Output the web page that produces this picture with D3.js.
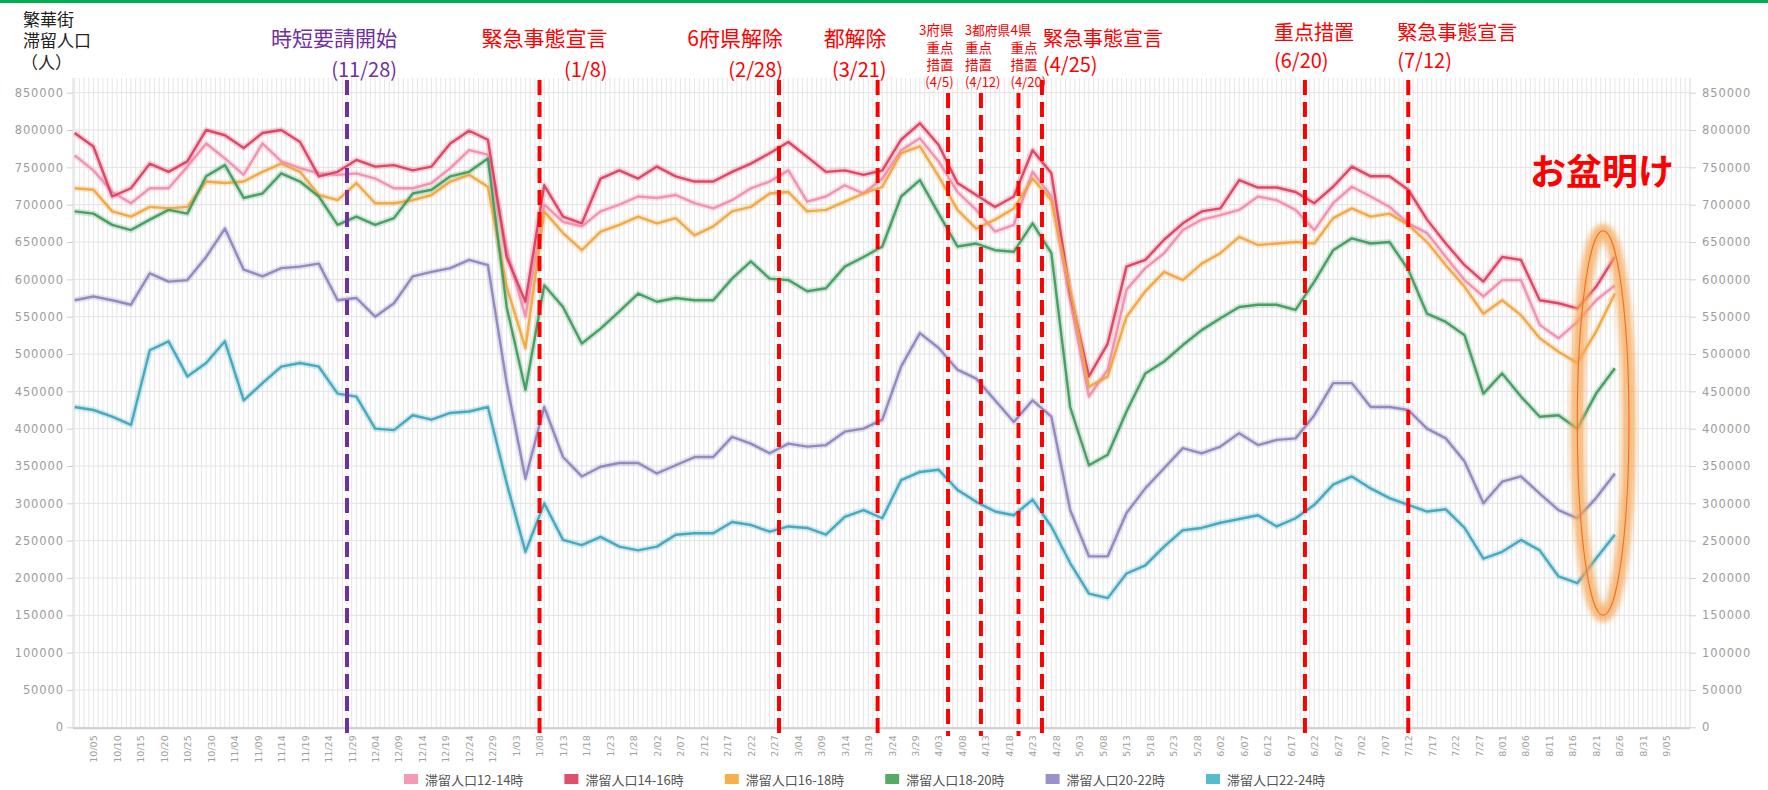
<!DOCTYPE html>
<html><head><meta charset="utf-8">
<script src="https://cdn.jsdelivr.net/npm/d3@7"></script>
<style>
body{margin:0;background:#fff;}
svg{display:block;}
text{font-family:"Noto Sans CJK JP","Noto Sans",sans-serif;}
</style></head><body>
<svg id="chart" width="1768" height="790"></svg>
<script>
// ---------------- DATA ----------------
const dates = [
"2020-10-01","2020-10-05","2020-10-09","2020-10-13","2020-10-17","2020-10-21","2020-10-25","2020-10-29",
"2020-11-02","2020-11-06","2020-11-10","2020-11-14","2020-11-18","2020-11-22","2020-11-26","2020-11-30",
"2020-12-04","2020-12-08","2020-12-12","2020-12-16","2020-12-20","2020-12-24","2020-12-28","2021-01-01",
"2021-01-05","2021-01-09","2021-01-13","2021-01-17","2021-01-21","2021-01-25","2021-01-29","2021-02-02",
"2021-02-06","2021-02-10","2021-02-14","2021-02-18","2021-02-22","2021-02-26","2021-03-02","2021-03-06",
"2021-03-10","2021-03-14","2021-03-18","2021-03-22","2021-03-26","2021-03-30","2021-04-03","2021-04-07",
"2021-04-11","2021-04-15","2021-04-19","2021-04-23","2021-04-27","2021-05-01","2021-05-05","2021-05-09",
"2021-05-13","2021-05-17","2021-05-21","2021-05-25","2021-05-29","2021-06-02","2021-06-06","2021-06-10",
"2021-06-14","2021-06-18","2021-06-22","2021-06-26","2021-06-30","2021-07-04","2021-07-08","2021-07-12",
"2021-07-16","2021-07-20","2021-07-24","2021-07-28","2021-08-01","2021-08-05","2021-08-09","2021-08-13",
"2021-08-17","2021-08-21","2021-08-25"];

const seriesNames = ["滞留人口12-14時","滞留人口14-16時","滞留人口16-18時","滞留人口18-20時","滞留人口20-22時","滞留人口22-24時"];
const seriesColors = ["#f08cab","#dc3c5c","#f0a53c","#3c9a5a","#8c82be","#3aa5bd"];
const legendColors = ["#f59ab5","#e0506a","#f5b04a","#55aa66","#9a90cc","#55bccc"];

// values in thousands of people
const pop12_14 = [766,746,717,702,722,722,751,782,762,740,782,758,749,742,740,742,735,722,722,729,749,773,767,640,550,700,677,671,
  691,700,711,709,713,702,695,706,722,731,746,704,711,726,715,735,773,789,758,717,693,664,673,744,711,572,443,479,
  586,615,635,666,680,686,693,711,706,693,666,702,724,711,697,675,662,630,599,577,599,599,539,521,543,572,592];
const pop14_16 = [796,778,711,722,755,744,758,800,793,776,796,800,784,738,744,760,751,753,746,751,782,799,787,630,570,726,684,675,
  735,746,735,751,738,731,731,744,755,769,784,764,744,746,740,746,787,809,780,729,713,697,711,773,742,581,470,514,
  617,626,653,675,691,695,733,723,723,717,702,724,751,738,738,720,680,648,619,597,630,626,572,568,561,590,630];
const pop16_18 = [722,720,691,684,697,695,697,731,729,731,744,755,744,713,706,729,702,702,706,713,731,740,724,590,508,691,662,639,
  664,673,684,675,682,659,671,691,697,715,717,691,693,704,715,724,769,778,738,693,668,680,695,735,706,586,456,470,
  550,584,610,599,621,635,657,646,648,650,648,682,695,684,688,673,650,619,590,554,572,552,521,503,488,530,581];
const pop18_20 = [691,688,673,666,680,693,688,738,753,709,715,742,731,711,673,684,673,682,715,720,738,744,762,563,452,592,563,514,
  534,557,581,570,575,572,572,601,624,601,599,584,588,617,630,644,711,733,688,644,648,639,637,675,635,429,351,365,
  423,474,490,512,532,548,563,566,566,559,597,639,655,648,650,613,554,543,525,447,474,443,416,418,400,447,481];
const pop20_22 = [572,577,572,566,608,597,599,630,668,613,604,615,617,621,572,575,550,568,604,610,615,626,619,461,333,429,362,336,
  349,354,354,340,351,362,362,389,380,367,380,376,378,396,400,412,483,528,508,479,467,438,409,438,416,291,229,229,
  287,320,347,374,367,376,394,378,385,387,418,461,461,429,429,425,400,387,356,300,329,336,313,291,280,307,340];
const pop22_24 = [429,425,416,405,505,517,470,488,517,438,461,483,488,483,447,443,400,398,418,412,421,423,429,327,235,300,251,244,
  255,242,237,242,258,260,260,275,271,262,269,267,258,282,291,280,331,342,345,318,302,289,284,305,269,220,179,173,
  206,217,242,264,267,274,279,284,269,280,298,325,336,320,307,298,289,292,267,226,235,251,237,202,193,226,258];

const yTicks = [0,50000,100000,150000,200000,250000,300000,350000,400000,450000,500000,550000,600000,650000,700000,750000,800000,850000];

const eventDates = ["2020-11-28","2021-01-08","2021-02-28","2021-03-21","2021-04-05","2021-04-12","2021-04-20","2021-04-25","2021-06-20","2021-07-12"];
const eventTitles = [["時短要請開始"],["緊急事態宣言"],["6府県解除"],["都解除"],["3府県","重点","措置"],["3都府県","重点","措置"],["4県","重点","措置"],["緊急事態宣言"],["重点措置"],["緊急事態宣言"]];
const eventSubs = ["(11/28)","(1/8)","(2/28)","(3/21)","(4/5)","(4/12)","(4/20)","(4/25)","(6/20)","(7/12)"];
const eventColors = ["#7030a0","#ff0000","#ff0000","#ff0000","#ff0000","#ff0000","#ff0000","#ff0000","#ff0000","#ff0000"];

const highlightLabel = "お盆明け";
const highlightStart = "2021-08-17", highlightEnd = "2021-08-28";
const yTitle = ["繁華街","滞留人口","（人）"];

// ---------------- CHART ----------------
const parse = d3.timeParse("%Y-%m-%d");
const svg = d3.select("#chart");
const W = 1768, H = 790;
const plotL = 73, plotR = 1690, plotTop = 78;

const x = d3.scaleTime()
  .domain([new Date(2020, 8, 30, 15, 36), new Date(2021, 8, 10)])
  .range([plotL, plotR]);
const y = d3.scaleLinear().domain([0, 850000]).range([727.3, 92.7]);

svg.append("rect").attr("width", W).attr("height", H).attr("fill", "#fff");
svg.append("rect").attr("x", 0).attr("y", 0).attr("width", W).attr("height", 3).attr("fill", "#00b050");

// daily vertical grid
const days = d3.timeDay.range(new Date(2020, 9, 1), new Date(2021, 8, 10));
svg.append("g").selectAll("line").data(days).join("line")
  .attr("x1", d => x(d)).attr("x2", d => x(d))
  .attr("y1", plotTop).attr("y2", y(0))
  .attr("stroke", "#e6e6e6").attr("stroke-width", 1);

// horizontal grid
svg.append("g").selectAll("line").data(yTicks).join("line")
  .attr("x1", plotL).attr("x2", plotR)
  .attr("y1", d => y(d)).attr("y2", d => y(d))
  .attr("stroke", "#e3e3e3").attr("stroke-width", 1);

// axes borders
svg.append("line").attr("x1", plotL).attr("x2", plotL).attr("y1", plotTop).attr("y2", y(0)).attr("stroke", "#d8d8d8");
svg.append("line").attr("x1", plotR).attr("x2", plotR).attr("y1", plotTop).attr("y2", y(0)).attr("stroke", "#d8d8d8");
svg.append("line").attr("x1", plotL).attr("x2", plotR).attr("y1", y(0) + 1).attr("y2", y(0) + 1).attr("stroke", "#cfcfcf").attr("stroke-width", 2);

// y axes
const yAxisL = d3.axisLeft(y).tickValues(yTicks).tickFormat(d3.format("d")).tickSize(6).tickPadding(3);
const gL = svg.append("g").attr("transform", `translate(${plotL},0)`).call(yAxisL);
const yAxisR = d3.axisRight(y).tickValues(yTicks).tickFormat(d3.format("d")).tickSize(6).tickPadding(6);
const gR = svg.append("g").attr("transform", `translate(${plotR},0)`).call(yAxisR);
[gL, gR].forEach(g => {
  g.select(".domain").remove();
  g.selectAll(".tick line").attr("stroke", "#d0d0d0");
  g.selectAll(".tick text").attr("fill", "#9c9c9c")
    .style("font-family", "DejaVu Sans").style("font-size", "11.5px").style("letter-spacing", "0.9px");
});

// x axis labels every 5 days
const xTickDates = d3.timeDay.range(new Date(2020, 9, 5), new Date(2021, 8, 8), 5);
const xAxis = d3.axisBottom(x).tickValues(xTickDates).tickFormat(d3.timeFormat("%-m/%d")).tickSize(0).tickPadding(0);
const gX = svg.append("g").attr("transform", `translate(0,${y(0) + 6})`).call(xAxis);
gX.select(".domain").remove();
gX.selectAll(".tick text")
  .attr("transform", "rotate(-90)")
  .attr("text-anchor", "end")
  .attr("x", -2).attr("y", 0).attr("dy", "0.35em")
  .attr("fill", "#a0a0a0")
  .style("font-family", "DejaVu Sans").style("font-size", "9.5px");

// series
const seriesVals = [pop12_14, pop14_16, pop16_18, pop18_20, pop20_22, pop22_24];
const pdates = dates.map(parse);
const line = d3.line().x((d, i) => x(pdates[i])).y(d => y(d * 1000)).curve(d3.curveLinear);
const gS = svg.append("g");
seriesVals.forEach((vals, k) => {
  gS.append("path").attr("d", line(vals)).attr("fill", "none")
    .attr("stroke", seriesColors[k]).attr("stroke-opacity", 0.22).attr("stroke-width", 6)
    .attr("stroke-linejoin", "round");
});
seriesVals.forEach((vals, k) => {
  gS.append("path").attr("d", line(vals)).attr("fill", "none")
    .attr("stroke", seriesColors[k]).attr("stroke-width", 2.4)
    .attr("stroke-linejoin", "round").attr("stroke-opacity", 0.92);
});

// event lines & annotations
const evLayout = [
  {dx: 50,  anchor: "end",   top: 80, rows: [{y: 37, fs: 21}], sub: {y: 68, fs: 20}},
  {dx: 68,  anchor: "end",   top: 80, rows: [{y: 37, fs: 21}], sub: {y: 68, fs: 20}},
  {dx: 4,   anchor: "end",   top: 80, rows: [{y: 37, fs: 21}], sub: {y: 68, fs: 20}},
  {dx: 9,   anchor: "end",   top: 80, rows: [{y: 37, fs: 21}], sub: {y: 68, fs: 20}},
  {dx: 5.5, anchor: "end",   top: 93, rows: [{y: 29, fs: 13.5}, {y: 47, fs: 13.5}, {y: 64, fs: 13.5}], sub: {y: 81, fs: 13}},
  {dx: -16, anchor: "start", top: 93, rows: [{y: 29, fs: 12.8}, {y: 47, fs: 13.5}, {y: 64, fs: 13.5}], sub: {y: 81, fs: 13}},
  {dx: -8,  anchor: "start", top: 93, rows: [{y: 29, fs: 13.5}, {y: 47, fs: 13.5}, {y: 64, fs: 13.5}], sub: {y: 81, fs: 13}},
  {dx: 1,   anchor: "start", top: 80, rows: [{y: 37, fs: 20}], sub: {y: 63, fs: 20}},
  {dx: -31, anchor: "start", top: 80, rows: [{y: 31, fs: 20}], sub: {y: 59, fs: 20}},
  {dx: -11, anchor: "start", top: 80, rows: [{y: 31, fs: 20}], sub: {y: 59, fs: 20}}
];
const gE = svg.append("g");
eventDates.forEach((ds, k) => {
  const ex = x(parse(ds));
  const L = evLayout[k];
  gE.append("line").attr("x1", ex).attr("x2", ex).attr("y1", L.top).attr("y2", 736)
    .attr("stroke", eventColors[k]).attr("stroke-width", 4).attr("stroke-dasharray", "15,7");
  eventTitles[k].forEach((t, r) => {
    gE.append("text").attr("x", ex + L.dx).attr("y", L.rows[r].y)
      .attr("text-anchor", L.anchor).attr("dominant-baseline", "central")
      .attr("fill", eventColors[k]).style("font-size", L.rows[r].fs + "px").text(t);
  });
  gE.append("text").attr("x", ex + L.dx).attr("y", L.sub.y)
    .attr("text-anchor", L.anchor).attr("dominant-baseline", "central")
    .attr("fill", eventColors[k]).style("font-size", L.sub.fs + "px").text(eventSubs[k]);
});

// y title
yTitle.forEach((t, i) => {
  svg.append("text").attr("x", i === 2 ? 21 : 23).attr("y", 18 + i * 21.5)
    .attr("dominant-baseline", "central").attr("fill", "#222")
    .style("font-size", "17px").text(t);
});

// highlight ellipse
const defs = svg.append("defs");
defs.append("filter").attr("id", "glow").attr("x", "-50%").attr("y", "-20%").attr("width", "200%").attr("height", "140%")
  .append("feGaussianBlur").attr("stdDeviation", 2.4);
const ex0 = x(parse(highlightStart)), ex1 = x(parse(highlightEnd));
const ecx = (ex0 + ex1) / 2, erx = (ex1 - ex0) / 2;
const ecy = (y(665000) + y(150000)) / 2, ery = (y(150000) - y(665000)) / 2;
svg.append("ellipse").attr("cx", ecx).attr("cy", ecy).attr("rx", erx).attr("ry", ery)
  .attr("fill", "none").attr("stroke", "#f5a858").attr("stroke-opacity", 0.75).attr("stroke-width", 14)
  .attr("filter", "url(#glow)");
svg.append("ellipse").attr("cx", ecx).attr("cy", ecy).attr("rx", erx).attr("ry", ery)
  .attr("fill", "none").attr("stroke", "#f07020").attr("stroke-width", 1.1);
svg.append("text").attr("x", 1530).attr("y", 169).attr("dominant-baseline", "central")
  .attr("fill", "#ff0000").style("font-size", "36px").style("font-weight", "bold").text(highlightLabel);

// legend
const gLeg = svg.append("g");
seriesNames.forEach((n, k) => {
  const lx = 404 + k * 160.4;
  gLeg.append("rect").attr("x", lx).attr("y", 774).attr("width", 14).attr("height", 10).attr("fill", legendColors[k]);
  gLeg.append("text").attr("x", lx + 21).attr("y", 779).attr("dominant-baseline", "central")
    .attr("fill", "#555").style("font-size", "13px").text(n);
});
</script>
</body></html>
